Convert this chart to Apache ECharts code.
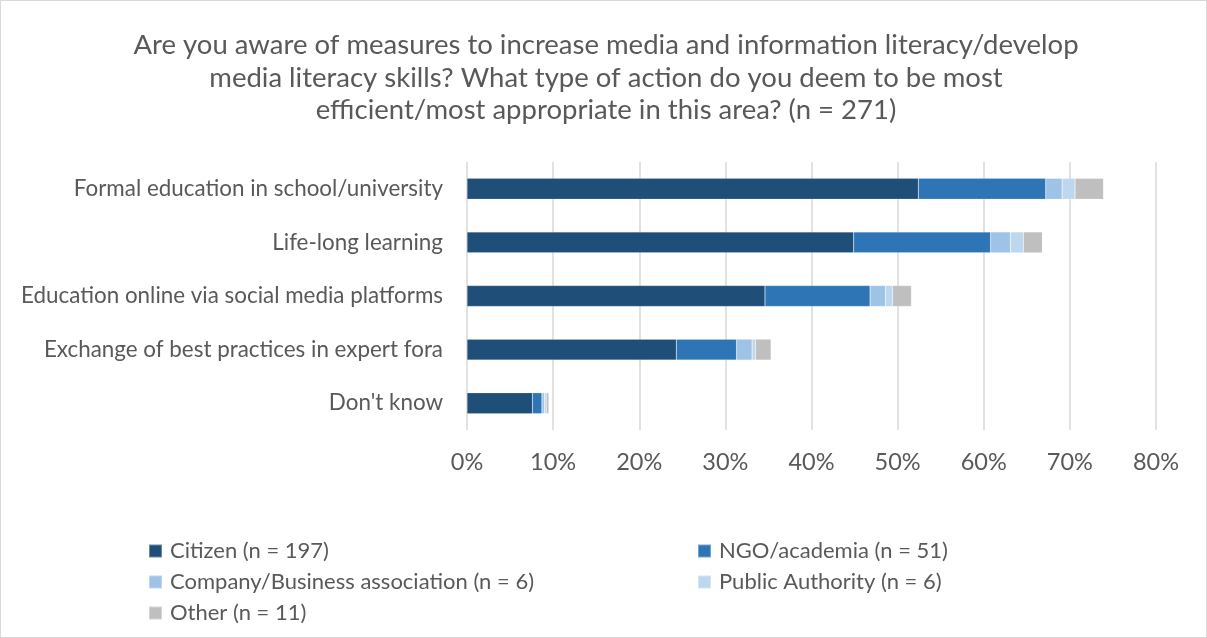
<!DOCTYPE html>
<html><head><meta charset="utf-8">
<script src="https://cdn.jsdelivr.net/npm/echarts@6/dist/echarts.min.js"></script>
<style>html,body{margin:0;padding:0;background:#fff}#c{width:1207px;height:638px;box-sizing:border-box;border:1px solid #d9d9d9}</style>
</head><body><div id="c"></div>
<script>
const categories = ["Formal education in school/university","Life-long learning","Education online via social media platforms","Exchange of best practices in expert fora","Don't know"];
const seriesNames = ["Citizen (n = 197)","NGO/academia (n = 51)","Company/Business association (n = 6)","Public Authority (n = 6)","Other (n = 11)"];
const citizen = [52.4, 44.9, 34.6, 24.3, 7.6];
const ngo = [14.8, 15.9, 12.2, 7.0, 1.1];
const company = [1.9, 2.3, 1.8, 1.8, 0.3];
const publicAuth = [1.5, 1.5, 0.8, 0.4, 0.2];
const other = [3.3, 2.2, 2.2, 1.8, 0.3];
const xTicks = [0, 10, 20, 30, 40, 50, 60, 70, 80];
const colors = ["#1f4e79","#2e75b6","#9dc3e6","#bdd7ee","#bfbfbf"];
const values = [citizen, ngo, company, publicAuth, other];
const FONT = "Lato";
const chart = echarts.init(document.getElementById('c'));
const legendText = {fontFamily: FONT, fontSize: 22, color: '#595959', padding: [0, 0, 0, 3]};
chart.setOption({
  animation: false,
  title: {
    text: "Are you aware of measures to increase media and information literacy/develop\nmedia literacy skills? What type of action do you deem to be most\nefficient/most appropriate in this area? (n = 271)",
    left: 600, top: 23, textAlign: 'center',
    textStyle: {fontFamily: FONT, fontSize: 27.5, fontWeight: 'normal', color: '#595959', lineHeight: 32.5}
  },
  legend: [
    {data: [seriesNames[0], seriesNames[2], seriesNames[4]], orient: 'vertical', left: 147, top: 539, padding: 0, itemWidth: 13, itemHeight: 13, itemGap: 9, icon: 'rect', textStyle: legendText},
    {data: [seriesNames[1], seriesNames[3]], orient: 'vertical', left: 696, top: 539, padding: 0, itemWidth: 13, itemHeight: 13, itemGap: 9, icon: 'rect', textStyle: legendText}
  ],
  grid: {left: 466, right: 50, top: 161, bottom: 207, containLabel: false},
  xAxis: {
    type: 'value', min: 0, max: 80, interval: 10,
    axisLine: {show: false}, axisTick: {show: false},
    splitLine: {show: true, lineStyle: {color: '#d9d9d9', width: 1.5}},
    axisLabel: {formatter: v => xTicks.includes(v) ? v + '%' : '', fontFamily: FONT, fontSize: 23.5, color: '#595959', margin: 20}
  },
  yAxis: {
    type: 'category', data: categories, inverse: true,
    axisLine: {show: false}, axisTick: {show: false},
    axisLabel: {fontFamily: FONT, fontSize: 22.4, color: '#595959', margin: 24}
  },
  series: seriesNames.map((n, i) => ({
    name: n, type: 'bar', stack: 'total', data: values[i],
    barCategoryGap: '61%',
    itemStyle: {color: colors[i], borderColor: 'rgba(255,255,255,0.35)', borderWidth: 0.5}
  }))
});
</script></body></html>
